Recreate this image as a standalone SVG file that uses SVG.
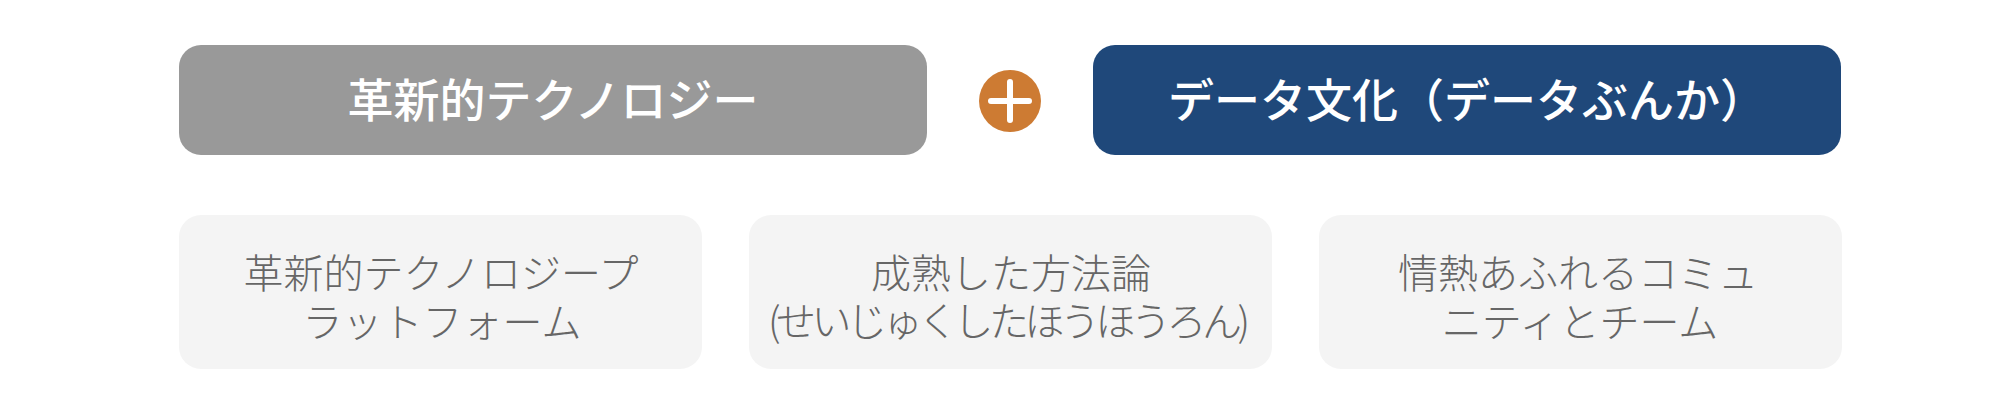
<svg xmlns="http://www.w3.org/2000/svg" width="2000" height="416" viewBox="0 0 2000 416">
<style>
.t{font-family:"Noto Sans CJK JP","Noto Sans CJK SC",sans-serif;}
.top{font-size:46px;font-weight:500;fill:#ffffff;text-anchor:middle;}
.sub{font-size:40px;font-weight:300;fill:#666666;text-anchor:middle;}
.card{fill:#f4f4f4;}
</style>
<rect width="2000" height="416" fill="#ffffff"/>
<g id="connectors"></g>
<g id="tech">
<rect x="179" y="45" width="748" height="110" rx="22" fill="#999999"/>
<text class="t top" x="553" y="117">革新的テクノロジー</text>
</g>
<g id="plus">
<circle cx="1010" cy="101" r="31" fill="#cd7b33"/>
<path d="M991 101H1029M1010 82V120" stroke="#ffffff" stroke-width="6" stroke-linecap="round" fill="none"/>
</g>
<g id="culture">
<rect x="1093" y="45" width="748" height="110" rx="22" fill="#1f487a"/>
<text class="t top" x="1467" y="117">データ文化（データぶんか）</text>
</g>
<g id="platform">
<rect class="card" x="179" y="215" width="523" height="154" rx="22"/>
<text class="t sub"><tspan x="441" y="288">革新的テクノロジープ</tspan><tspan x="442" y="337">ラットフォーム</tspan></text>
</g>
<g id="methodology">
<rect class="card" x="749" y="215" width="523" height="154" rx="22"/>
<text class="t sub"><tspan x="1011" y="288">成熟した方法論</tspan><tspan x="1009" y="336" textLength="482" lengthAdjust="spacing">(せいじゅくしたほうほうろん)</tspan></text>
</g>
<g id="community">
<rect class="card" x="1319" y="215" width="523" height="154" rx="22"/>
<text class="t sub"><tspan x="1578" y="288">情熱あふれるコミュ</tspan><tspan x="1580" y="337">ニティとチーム</tspan></text>
</g>
</svg>
